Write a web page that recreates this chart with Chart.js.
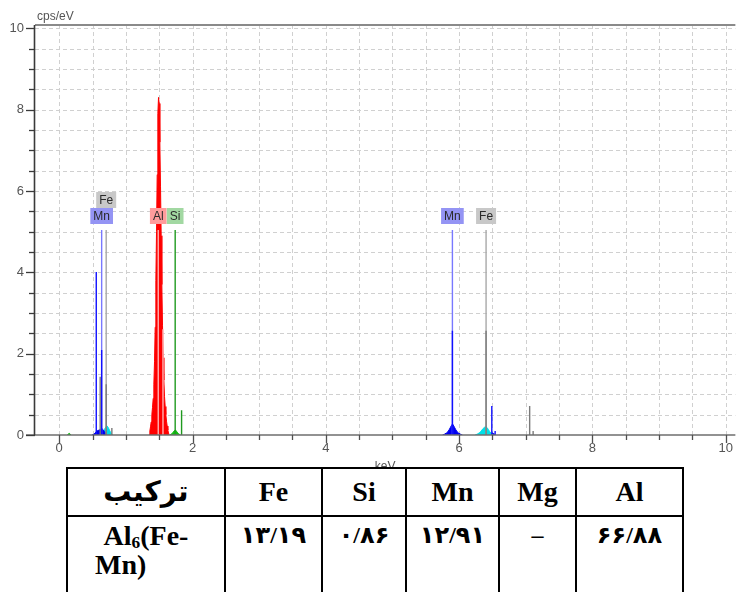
<!DOCTYPE html>
<html><head><meta charset="utf-8">
<script src="https://cdn.jsdelivr.net/npm/chart.js@4.4.1/dist/chart.umd.min.js"></script>
<style>
html,body{margin:0;padding:0;background:#fff;overflow:hidden;width:739px;height:592px;}
#wrap{position:absolute;left:0;top:0;width:739px;height:480px;}
#unit{position:absolute;left:37px;top:9px;font:12px 'Liberation Sans',Arial,sans-serif;color:#555;line-height:14px;}
#tbl{position:absolute;left:66px;top:467px;border-collapse:collapse;table-layout:fixed;width:618px;background:#fff;font-family:'Liberation Serif','Times New Roman','DejaVu Sans',serif;font-weight:bold;color:#000;}
#tbl td{border:2px solid #000;text-align:center;padding:0;}
#tbl tr.h td{height:46px;font-size:28px;line-height:30px;vertical-align:middle;}
#tbl tr.v td{height:100px;vertical-align:top;padding-top:3px;font-size:24px;line-height:30px;}
#tbl tr.v td.name{font-size:28px;line-height:29px;padding-top:4px;}
#tbl .l1{text-align:center;}
#tbl .l2{text-align:left;padding-left:27px;}
#tbl sub{font-size:0.62em;line-height:0;vertical-align:-0.2em;}
</style></head><body>
<div id="wrap"><canvas id="c"></canvas></div>
<div id="unit">cps/eV</div>
<table id="tbl"><colgroup id="cols"></colgroup></table>
<script>
// ---------- axes ----------
const xTickValues = [0,0.5,1,1.5,2,2.5,3,3.5,4,4.5,5,5.5,6,6.5,7,7.5,8,8.5,9,9.5,10];
const xLabelValues = [0,2,4,6,8,10];
const yTickValues = [0,0.5,1,1.5,2,2.5,3,3.5,4,4.5,5,5.5,6,6.5,7,7.5,8,8.5,9,9.5,10];
const yLabelValues = [0,2,4,6,8,10];
const xTitle = 'keV';

// ---------- spectrum (keV, cps/eV) ----------
const alEnergy = [1.35,1.36,1.37,1.38,1.39,1.40,1.41,1.42,1.43,1.44,1.45,1.46,1.47,1.48,1.49,1.50,1.51,1.52,1.53,1.54,1.55,1.56,1.57,1.58,1.59,1.60,1.61,1.62,1.63,1.64,1.65];
const alCounts = [0,0.1,0.2,0.32,0.5,0.68,0.9,1.25,1.8,2.65,3.8,5.0,6.4,7.9,8.3,8.15,7.2,6.1,4.9,3.7,2.7,1.9,1.35,0.95,0.7,0.5,0.34,0.22,0.12,0.05,0];

const mnLEnergy = [0.49,0.52,0.54,0.56,0.58,0.60,0.62,0.64,0.66,0.68,0.70,0.72];
const mnLCounts = [0,0.02,0.05,0.09,0.11,0.12,0.14,0.16,0.13,0.08,0.03,0];
const mnKaEnergy = [5.75,5.78,5.81,5.83,5.85,5.87,5.89,5.90,5.91,5.93,5.95,5.97,5.99,6.02,6.05];
const mnKaCounts = [0,0.02,0.05,0.08,0.13,0.19,0.25,0.27,0.25,0.19,0.13,0.08,0.05,0.02,0];
const mnKbEnergy = [6.46,6.49,6.50,6.52,6.55];
const mnKbCounts = [0,0.04,0.05,0.03,0];

const feLEnergy = [0.64,0.66,0.68,0.70,0.72,0.74,0.76,0.78,0.80];
const feLCounts = [0,0.06,0.14,0.2,0.22,0.17,0.1,0.04,0];
const feKaEnergy = [6.24,6.27,6.30,6.32,6.34,6.36,6.38,6.40,6.42,6.44,6.46,6.48,6.51];
const feKaCounts = [0,0.02,0.05,0.08,0.12,0.16,0.19,0.2,0.18,0.13,0.08,0.04,0];

const siEnergy = [1.66,1.69,1.71,1.73,1.74,1.75,1.77,1.79,1.82];
const siCounts = [0,0.03,0.07,0.11,0.12,0.11,0.07,0.03,0];
const lowEnergy = [0.12,0.15,0.18];
const lowCounts = [0,0.04,0];

// ---------- element line markers ----------
const markerNames = ['Mn','Fe','Al','Si','Mn','Fe'];
const markerEnergies = [0.637,0.705,1.486,1.740,5.899,6.404];
const markerHeight = 5.04;

const mnLineEnergies = [0.556,0.637,5.899,6.490,6.54];
const mnLineHeights  = [4.01,2.09,2.56,0.71,0.1];
const feLineEnergies = [0.615,0.705,0.79,6.404,7.058,7.11];
const feLineHeights  = [1.43,1.25,0.17,2.56,0.71,0.1];
const alLineEnergies = [1.557];
const alLineHeights  = [2.6];
const siLineEnergies = [1.836];
const siLineHeights  = [0.61];

// ---------- table ----------
const tableHeader = ['ترکیب','Fe','Si','Mn','Mg','Al'];
const phaseLine1 = ['Al','6','(Fe-'];
const phaseLine2 = 'Mn)';
const tableValues = ['۱۳/۱۹','۰/۸۶','۱۲/۹۱','–','۶۶/۸۸'];

// ---------- styles ----------
const fillColor = {Al:'#ff0000', Mn:'#0000f0', Fe:'#00e0e8', Si:'#10c010'};
const lineColor = {Al:'#ffb4b4', Mn:'#1010ff', Fe:'#7a7a7a', Si:'#1f9a1f'};
const markerColor = {Al:'#ffb0b0', Mn:'#7878ff', Fe:'#a8a8a8', Si:'#1f9a1f'};
const labelBg = {Mn:'#9494f4', Fe:'#c8c8c8', Al:'#ff9c9c', Si:'#a2d8a2'};
const colWidths = [158,97,84,93,77,107];
const FONT = "'Liberation Sans', Arial, sans-serif";

// ---------- build table ----------
(function(){
  const tbl = document.getElementById('tbl');
  const cg = document.getElementById('cols');
  colWidths.forEach(w=>{const c=document.createElement('col'); c.style.width=w+'px'; cg.appendChild(c);});
  const tr1 = document.createElement('tr'); tr1.className='h';
  tableHeader.forEach(t=>{const td=document.createElement('td'); td.textContent=t; tr1.appendChild(td);});
  tbl.appendChild(tr1);
  const tr2 = document.createElement('tr'); tr2.className='v';
  const n = document.createElement('td'); n.className='name';
  n.innerHTML = '<div class="l1">'+phaseLine1[0]+'<sub>'+phaseLine1[1]+'</sub>'+phaseLine1[2]+'</div><div class="l2">'+phaseLine2+'</div>';
  tr2.appendChild(n);
  tableValues.forEach(t=>{const td=document.createElement('td'); td.textContent=t; tr2.appendChild(td);});
  tbl.appendChild(tr2);
})();

// ---------- datasets ----------
const pts = (xs,ys)=>xs.map((x,i)=>({x:x,y:ys[i]}));
const stems = (xs,hs)=>{const p=[]; xs.forEach((x,i)=>{p.push({x:x,y:0},{x:x,y:hs[i]},{x:x,y:null});}); return p;};
const fillDs = (xs,ys,el)=>({data:pts(xs,ys),showLine:true,fill:'origin',backgroundColor:fillColor[el],borderColor:fillColor[el],borderWidth:1,pointRadius:0,order:3});
const stemDs = (xs,hs,color,order)=>({data:stems(xs,hs),showLine:true,spanGaps:false,fill:false,borderColor:color,borderWidth:1.4,pointRadius:0,order:order});

const datasets = [
  fillDs(lowEnergy,lowCounts,'Si'),
  fillDs(mnLEnergy,mnLCounts,'Mn'),
  fillDs(feLEnergy,feLCounts,'Fe'),
  fillDs(alEnergy,alCounts,'Al'),
  fillDs(siEnergy,siCounts,'Si'),
  fillDs(mnKaEnergy,mnKaCounts,'Mn'),
  fillDs(feKaEnergy,feKaCounts,'Fe'),
  fillDs(mnKbEnergy,mnKbCounts,'Mn')
];
['Mn','Fe','Al','Si'].forEach(el=>{
  const es = markerEnergies.filter((e,i)=>markerNames[i]===el);
  datasets.push(stemDs(es, es.map(()=>markerHeight), markerColor[el], 2));
});
datasets.push(stemDs(mnLineEnergies,mnLineHeights,lineColor.Mn,1));
datasets.push(stemDs(feLineEnergies,feLineHeights,lineColor.Fe,1));
datasets.push(stemDs(alLineEnergies,alLineHeights,lineColor.Al,1));
datasets.push(stemDs(siLineEnergies,siLineHeights,lineColor.Si,1));

// ---------- decoration plugin ----------
function seg(ctx,x1,y1,x2,y2){ctx.beginPath();ctx.moveTo(x1,y1);ctx.lineTo(x2,y2);ctx.stroke();}
const deco = {
  id:'deco',
  beforeDatasetsDraw(chart){
    const {ctx, chartArea:a, scales:{x,y}} = chart;
    ctx.save();
    ctx.strokeStyle='#d0d0d0'; ctx.lineWidth=1; ctx.setLineDash([4,3]);
    xTickValues.forEach(v=>{const px=Math.round(x.getPixelForValue(v))+0.5; seg(ctx,px,a.top,px,a.bottom);});
    yTickValues.forEach(v=>{if(v===0)return; const py=Math.round(y.getPixelForValue(v))+0.5; seg(ctx,a.left,py,a.right,py);});
    ctx.restore();
  },
  afterDatasetsDraw(chart){
    const {ctx, chartArea:a, scales:{x,y}} = chart;
    ctx.save();
    ctx.setLineDash([]);
    ctx.strokeStyle='#8a8a8a'; ctx.lineWidth=2; seg(ctx,a.left,a.top,a.right,a.top);
    ctx.strokeStyle='#6e6e6e'; ctx.lineWidth=1.6; seg(ctx,a.left-9,a.bottom,a.right,a.bottom);
    ctx.strokeStyle='#3a3a3a'; ctx.lineWidth=1.6; seg(ctx,a.left-0.5,a.top,a.left-0.5,a.bottom);
    ctx.lineWidth=1.3; ctx.strokeStyle='#3a3a3a';
    yTickValues.forEach(v=>{const py=Math.round(y.getPixelForValue(v))+0.5; const len=yLabelValues.includes(v)?9:6; seg(ctx,a.left-len,py,a.left,py);});
    ctx.strokeStyle='#505050';
    xTickValues.forEach(v=>{const px=Math.round(x.getPixelForValue(v))+0.5; const len=xLabelValues.includes(v)?8:5; seg(ctx,px,a.bottom,px,a.bottom+len);});
    ctx.font='12px '+FONT; ctx.textAlign='center'; ctx.textBaseline='middle';
    const placed=[];
    const order = markerEnergies.map((e,i)=>i).sort((i,j)=>markerEnergies[i]-markerEnergies[j]);
    const baseBottom = y.getPixelForValue(markerHeight)-6;
    order.forEach(i=>{
      const name=markerNames[i];
      const cx=x.getPixelForValue(markerEnergies[i]);
      const w=ctx.measureText(name).width+6, h=16;
      let level=0;
      const l=cx-w/2, r=cx+w/2;
      while(placed.some(b=>b.level===level && Math.min(r,b.r)-Math.max(l,b.l)>2)) level++;
      placed.push({l:l,r:r,level:level});
      const top=baseBottom-h*(level+1);
      ctx.fillStyle=labelBg[name]; ctx.fillRect(l,top,w,h);
      ctx.fillStyle='#2a2a2a'; ctx.fillText(name,cx,top+h/2+0.5);
    });
    ctx.restore();
  }
};

new Chart(document.getElementById('c'),{
  type:'scatter',
  data:{datasets:datasets},
  options:{
    responsive:true, maintainAspectRatio:false, animation:false,
    layout:{padding:{top:25,left:0,right:0,bottom:0}},
    plugins:{legend:{display:false},tooltip:{enabled:false}},
    scales:{
      x:{type:'linear',min:-0.363,max:10.144,
        afterBuildTicks:s=>{s.ticks=xTickValues.map(v=>({value:v}));},
        afterFit:s=>{s.height=45;},
        grid:{display:false,drawTicks:false}, border:{display:false},
        ticks:{autoSkip:false,maxRotation:0,padding:6,color:'#555',font:{family:FONT,size:13},
          callback:v=>xLabelValues.includes(v)?String(v):''},
        title:{display:true,text:xTitle,color:'#555',font:{family:FONT,size:12},padding:{top:0,bottom:6}}
      },
      y:{type:'linear',min:0,max:10.08,
        afterBuildTicks:s=>{s.ticks=yTickValues.map(v=>({value:v}));},
        afterFit:s=>{s.width=35;},
        grid:{display:false,drawTicks:false}, border:{display:false},
        ticks:{autoSkip:false,padding:11,color:'#555',font:{family:FONT,size:13},
          callback:v=>yLabelValues.includes(v)?String(v):''}
      }
    }
  },
  plugins:[deco]
});
</script>
</body></html>
